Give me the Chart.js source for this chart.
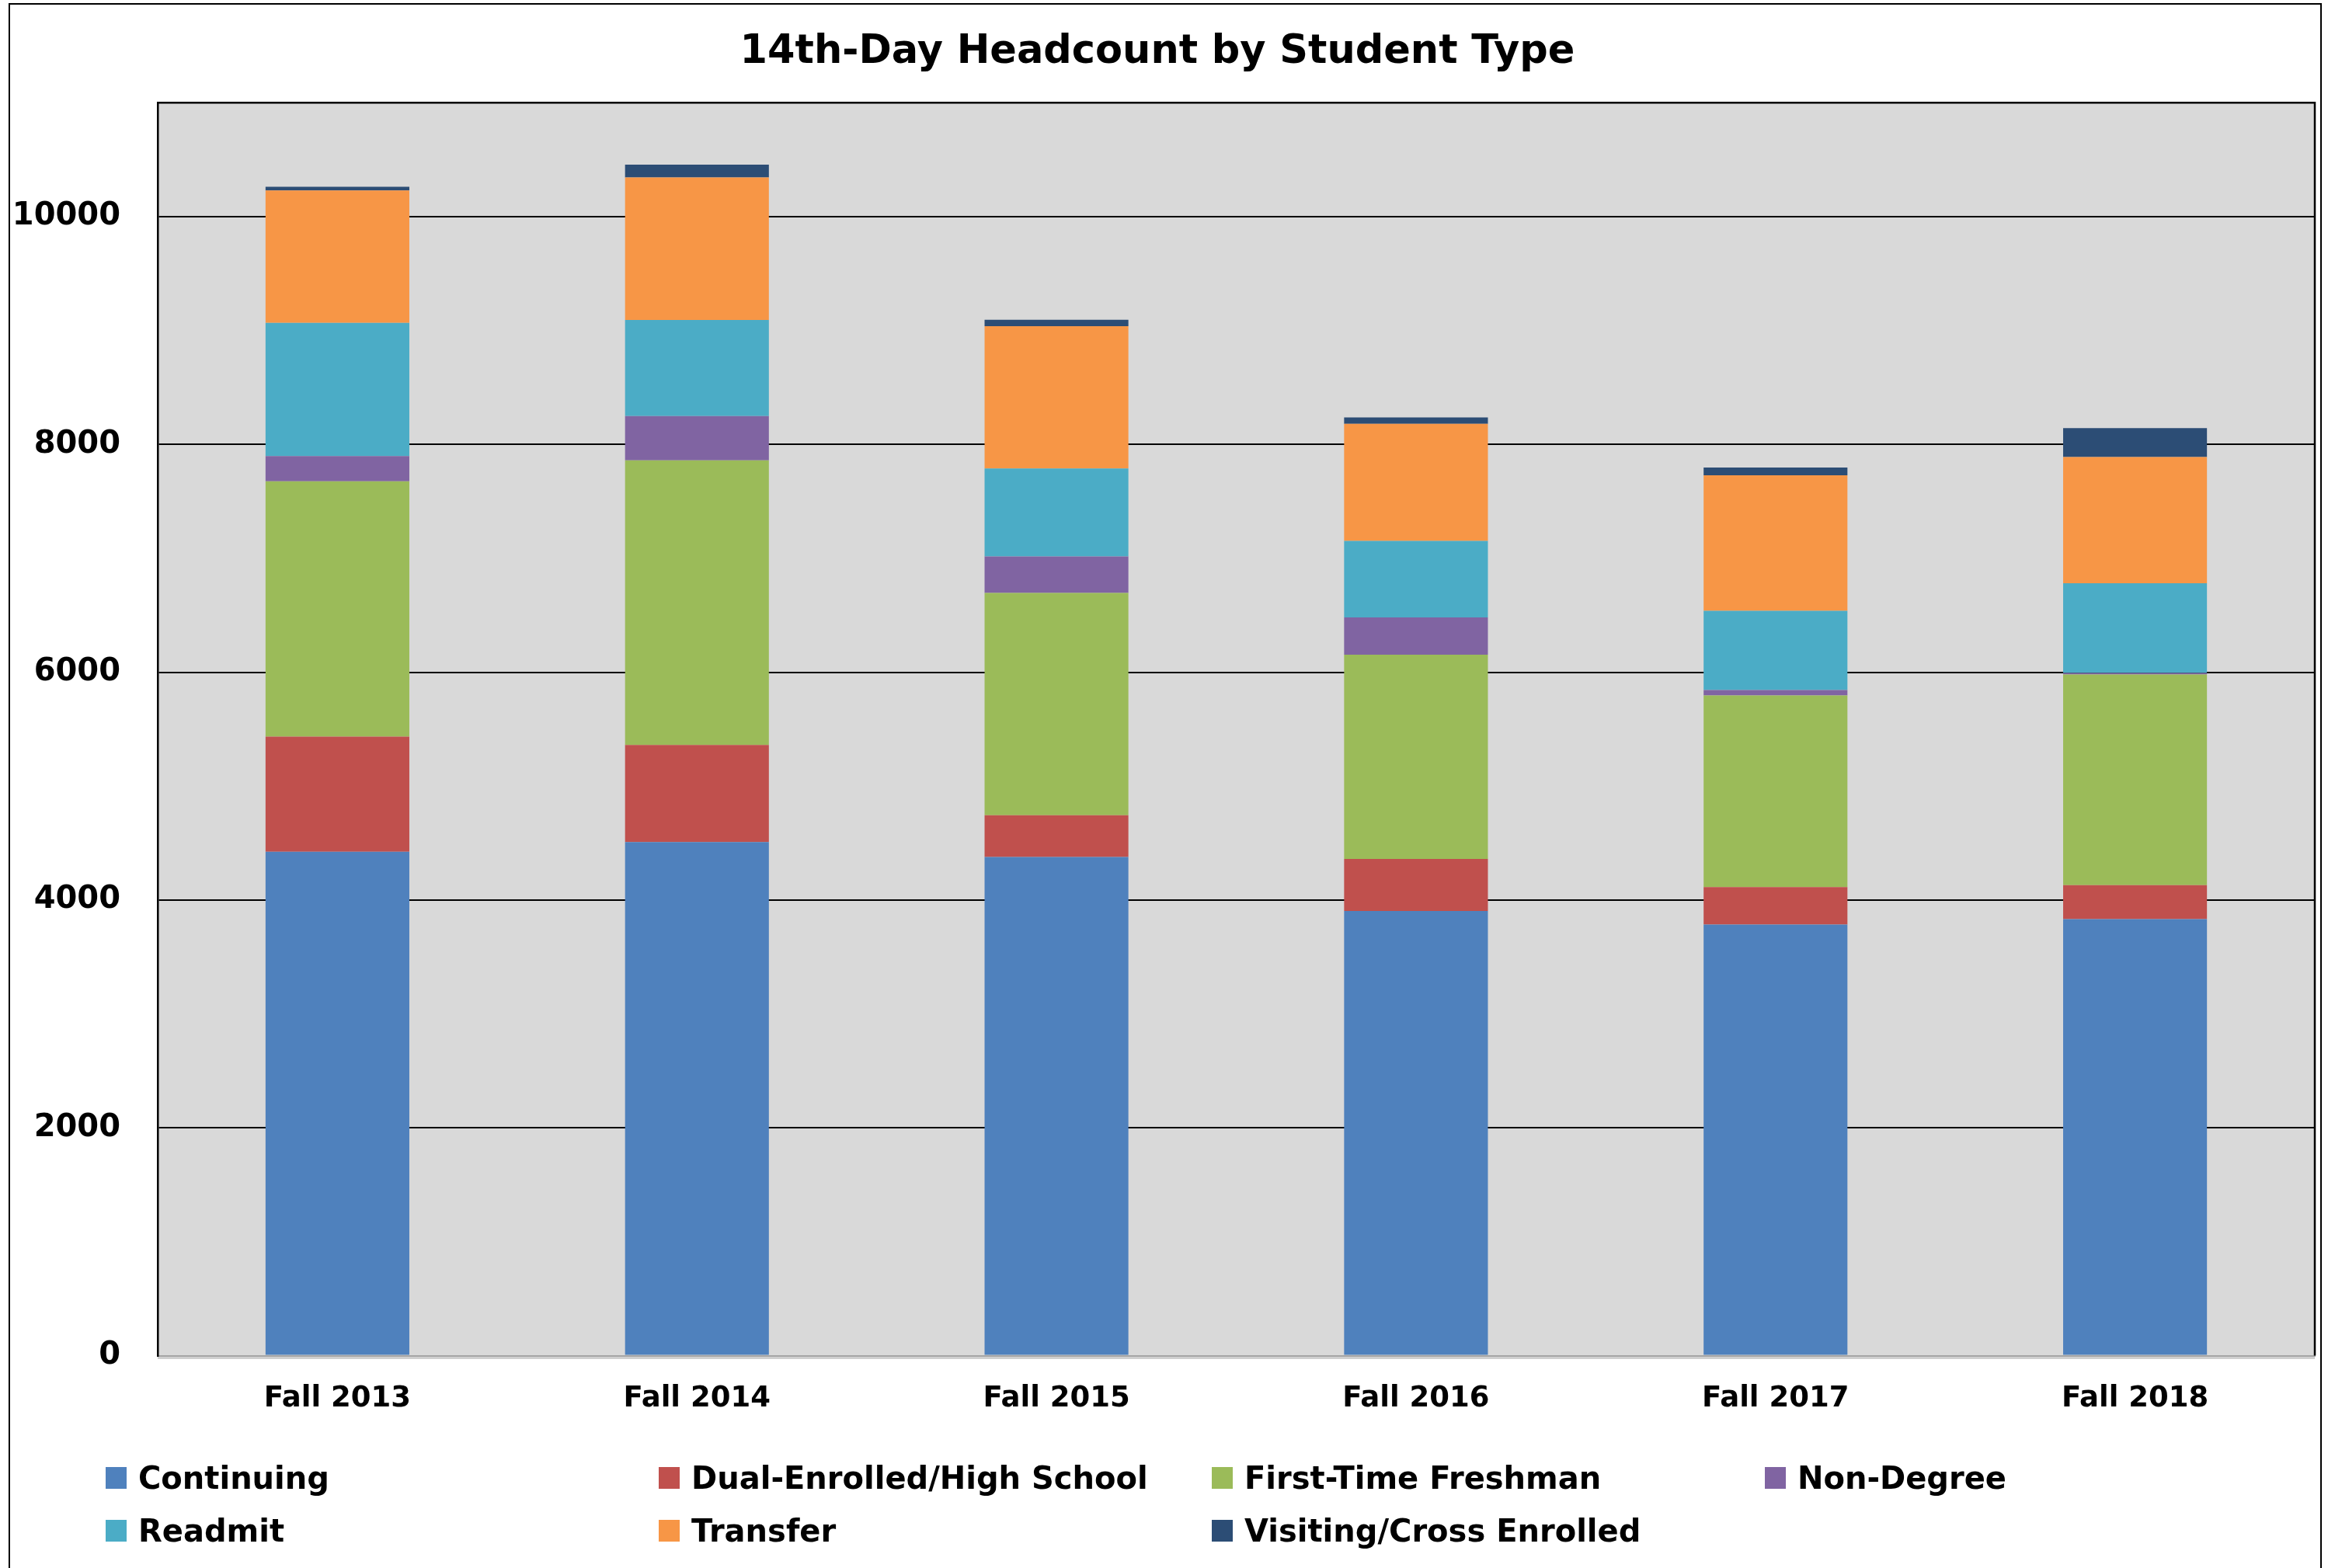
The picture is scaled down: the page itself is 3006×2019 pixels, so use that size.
<!DOCTYPE html>
<html>
<head>
<meta charset="utf-8">
<script src="https://cdn.jsdelivr.net/npm/chart.js@4"></script>
<style>
    body { margin: 0; background: #fff; }
    #wrap { position: relative; width: 3006px; height: 2019px; overflow: hidden; }
    #legend {
        position: absolute; left: 136px; top: 1889px;
        display: grid; grid-template-columns: repeat(4, 712px); row-gap: 40px;
        font-family: "DejaVu Sans", sans-serif; font-weight: bold; font-size: 40px; color: #000;
    }
    .item { display: flex; align-items: center; height: 28px; white-space: nowrap; }
    .box { width: 27px; height: 28px; margin-right: 15px; flex: none; }
</style>
</head>
<body>
<div id="wrap">
    <canvas id="chart" width="3006" height="2019"></canvas>
    <div id="legend"></div>
</div>
<script>
const terms = ["Fall 2013", "Fall 2014", "Fall 2015", "Fall 2016", "Fall 2017", "Fall 2018"];

const continuing = [4423, 4509, 4377, 3903, 3785, 3832];
const dualEnrolled = [1011, 852, 366, 458, 328, 298];
const firstTime = [2242, 2498, 1953, 1793, 1682, 1850];
const nonDegree = [222, 390, 320, 327, 49, 14];
const readmit = [1168, 843, 772, 671, 695, 786];
const transfer = [1164, 1251, 1250, 1028, 1189, 1108];
const visiting = [31, 113, 56, 56, 69, 254];

const yTicks = [0, 2000, 4000, 6000, 8000, 10000];

Chart.defaults.font.family = "'DejaVu Sans', sans-serif";
Chart.defaults.font.weight = "bold";
Chart.defaults.color = "#000";

// plot background, outer frame and plot border
const framePlugin = {
    id: "frame",
    beforeDraw(chart) {
        const ctx = chart.ctx;
        const a = chart.chartArea;
        ctx.save();
        ctx.fillStyle = "#fff";
        ctx.fillRect(0, 0, chart.width, chart.height);
        ctx.fillStyle = "#d9d9d9";
        ctx.fillRect(a.left, a.top, a.right - a.left, a.bottom - a.top);
        ctx.strokeStyle = "#000";
        ctx.lineWidth = 2;
        ctx.beginPath();
        ctx.moveTo(12, chart.height + 5);
        ctx.lineTo(12, 5);
        ctx.lineTo(2988, 5);
        ctx.lineTo(2988, chart.height + 5);
        ctx.stroke();
        ctx.restore();
    },
    afterDraw(chart) {
        const ctx = chart.ctx;
        const a = chart.chartArea;
        ctx.save();
        ctx.strokeStyle = "#000";
        ctx.lineWidth = 2.5;
        ctx.beginPath();
        ctx.moveTo(a.left, a.top);
        ctx.lineTo(a.right, a.top);
        ctx.lineTo(a.right, a.bottom);
        ctx.stroke();
        ctx.strokeStyle = "#cfcfcf";
        ctx.lineWidth = 3;
        ctx.beginPath();
        ctx.moveTo(a.left, a.bottom + 3);
        ctx.lineTo(a.right, a.bottom + 3);
        ctx.stroke();
        ctx.restore();
    }
};

const chart = new Chart(document.getElementById("chart"), {
    type: "bar",
    data: {
        labels: terms,
        datasets: [
            { label: "Continuing", data: continuing, backgroundColor: "#4f81bd" },
            { label: "Dual-Enrolled/High School", data: dualEnrolled, backgroundColor: "#c0504d" },
            { label: "First-Time Freshman", data: firstTime, backgroundColor: "#9bbb59" },
            { label: "Non-Degree", data: nonDegree, backgroundColor: "#8064a2" },
            { label: "Readmit", data: readmit, backgroundColor: "#4bacc6" },
            { label: "Transfer", data: transfer, backgroundColor: "#f79646" },
            { label: "Visiting/Cross Enrolled", data: visiting, backgroundColor: "#2c4d75" }
        ]
    },
    options: {
        responsive: false,
        animation: false,
        devicePixelRatio: 1,
        datasets: {
            bar: { barPercentage: 0.4, categoryPercentage: 1, borderWidth: 0 }
        },
        layout: {
            padding: { left: 0, right: 26, top: 0, bottom: 0 }
        },
        plugins: {
            legend: { display: false },
            tooltip: { enabled: false },
            title: {
                display: true,
                text: "14th-Day Headcount by Student Type",
                font: { size: 51, weight: "bold" },
                color: "#000",
                padding: { top: 37, bottom: 34 }
            }
        },
        scales: {
            x: {
                stacked: true,
                grid: { display: false, drawTicks: false },
                border: { color: "#a6a6a6", width: 2 },
                ticks: { font: { size: 37 }, padding: 34, maxRotation: 0 },
                afterFit: scale => { scale.height = 273.5; }
            },
            y: {
                stacked: true,
                min: 0,
                max: 11000,
                afterBuildTicks: axis => {
                    axis.ticks = yTicks.map(v => ({ value: v }));
                },
                grid: {
                    drawTicks: false,
                    lineWidth: 2,
                    color: ctx => ctx.tick && ctx.tick.value === 0 ? "rgba(0,0,0,0)" : "#000"
                },
                border: { color: "#000", width: 2.5 },
                ticks: {
                    font: { size: 40 },
                    padding: 48,
                    callback: value => String(value)
                },
                afterFit: scale => { scale.width = 203; }
            }
        }
    },
    plugins: [framePlugin]
});

// legend laid out in fixed columns like the original
const legendEl = document.getElementById("legend");
chart.data.datasets.forEach(ds => {
    const item = document.createElement("div");
    item.className = "item";
    const box = document.createElement("span");
    box.className = "box";
    box.style.background = ds.backgroundColor;
    const text = document.createElement("span");
    text.textContent = ds.label;
    item.appendChild(box);
    item.appendChild(text);
    legendEl.appendChild(item);
});
</script>
</body>
</html>
